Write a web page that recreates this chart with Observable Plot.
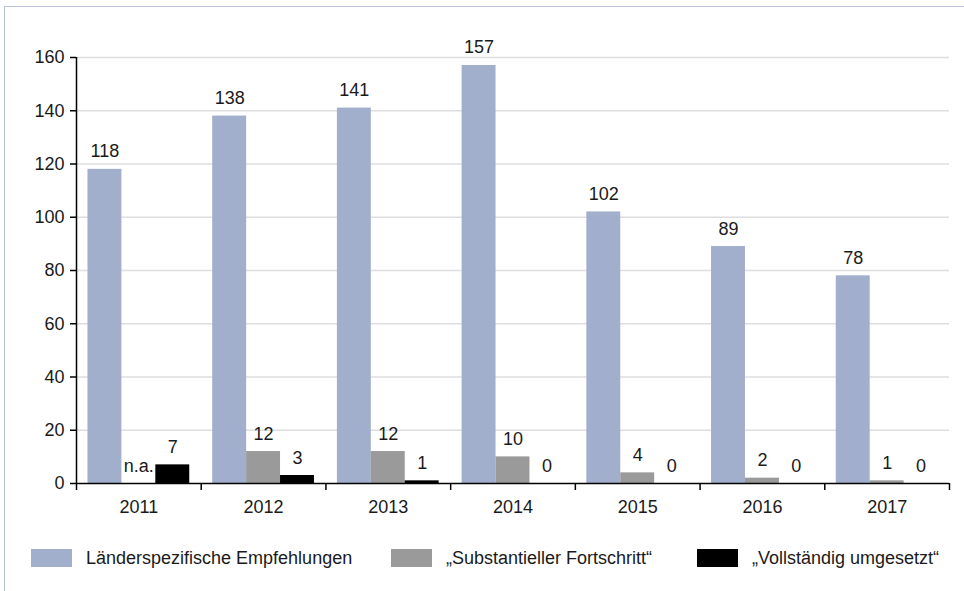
<!DOCTYPE html>
<html>
<head>
<meta charset="utf-8">
<script src="https://cdn.jsdelivr.net/npm/d3@7"></script>
<script src="https://cdn.jsdelivr.net/npm/@observablehq/plot@0.6"></script>
<style>
  html, body { margin: 0; padding: 0; background: #fff; overflow: hidden; width: 964px; height: 591px; }
  #frame { position: absolute; left: 4px; top: 6px; width: 2000px; height: 2000px;
           border-top: 1.5px solid #b9c4dc; border-left: 1.5px solid #b9c4dc; }
  #chart { position: absolute; left: 0; top: 0; }
  .item { position: absolute; top: 549px; height: 18px; display: flex; align-items: center;
          font-family: "Liberation Sans", Arial, sans-serif; font-size: 18px; color: #1a1a1a; white-space: nowrap; }
  .sw { width: 41px; height: 18px; margin-right: 14px; flex: none; }
</style>
</head>
<body>
<div id="frame"></div>
<div id="chart"></div>
<div id="legend"></div>
<script>
const years = [2011, 2012, 2013, 2014, 2015, 2016, 2017];
const recommendations = [118, 138, 141, 157, 102, 89, 78];
const substantial = [null, 12, 12, 10, 4, 2, 1];
const fully = [7, 3, 1, 0, 0, 0, 0];
const seriesNames = ["Länderspezifische Empfehlungen", "„Substantieller Fortschritt“", "„Vollständig umgesetzt“"];
const seriesColors = ["#a1afcd", "#9a9a9a", "#000000"];
const yTicks = [0, 20, 40, 60, 80, 100, 120, 140, 160];

const seriesValues = [recommendations, substantial, fully];
const data = years.flatMap((year, i) =>
  seriesValues.map((vals, k) => ({year, k, series: seriesNames[k], value: vals[i]})));

const w = 0.272; // bar width in band units
const boundaries = years.map(y => y - 0.5).concat([years[years.length - 1] + 0.5]);

const chart = Plot.plot({
  width: 964,
  height: 530,
  marginTop: 57,
  marginBottom: 47,
  marginLeft: 76,
  marginRight: 15,
  style: {fontFamily: "Liberation Sans, Arial, sans-serif", fontSize: "18px", color: "#1a1a1a", background: "transparent"},
  x: {domain: [boundaries[0], boundaries[boundaries.length - 1]], axis: null},
  y: {domain: [0, 160], axis: null},
  color: {domain: seriesNames, range: seriesColors},
  marks: [
    Plot.gridY(yTicks.filter(t => t > 0), {stroke: "#dedede", strokeOpacity: 1, strokeWidth: 1.5}),
    Plot.rectY(data.filter(d => d.value != null), {
      x1: d => d.year + (d.k - 1.5) * w,
      x2: d => d.year + (d.k - 0.5) * w,
      y1: 0, y2: "value", fill: "series"
    }),
    Plot.text(data, {
      x: d => d.year + (d.k - 1) * w,
      y: d => d.value ?? 0,
      text: d => d.value == null ? "n.a." : String(d.value),
      lineAnchor: "bottom", dy: -12, fontSize: 18, fill: "#1a1a1a"
    }),
    Plot.ruleY([0], {stroke: "#000", strokeWidth: 1.5}),
    Plot.ruleX([boundaries[0]], {y1: 0, y2: 160, stroke: "#000", strokeWidth: 1.5}),
    Plot.axisY(yTicks, {tickSize: 6, tickPadding: 6, fontSize: 18, stroke: "#000", strokeWidth: 1.5, label: null}),
    Plot.axisX(boundaries, {tickSize: 7, tickFormat: () => "", stroke: "#000", strokeWidth: 1.5, label: null}),
    Plot.axisX(years, {tickSize: 0, tickPadding: 17, tickFormat: d => String(d), fontSize: 18, label: null})
  ]
});
document.getElementById("chart").appendChild(chart);

const legendLeft = [31, 391, 697];
const legend = document.getElementById("legend");
seriesNames.forEach((name, k) => {
  const item = document.createElement("div");
  item.className = "item";
  item.style.left = legendLeft[k] + "px";
  const sw = document.createElement("div");
  sw.className = "sw";
  sw.style.background = seriesColors[k];
  const label = document.createElement("span");
  label.textContent = name;
  item.appendChild(sw);
  item.appendChild(label);
  legend.appendChild(item);
});
</script>
</body>
</html>
